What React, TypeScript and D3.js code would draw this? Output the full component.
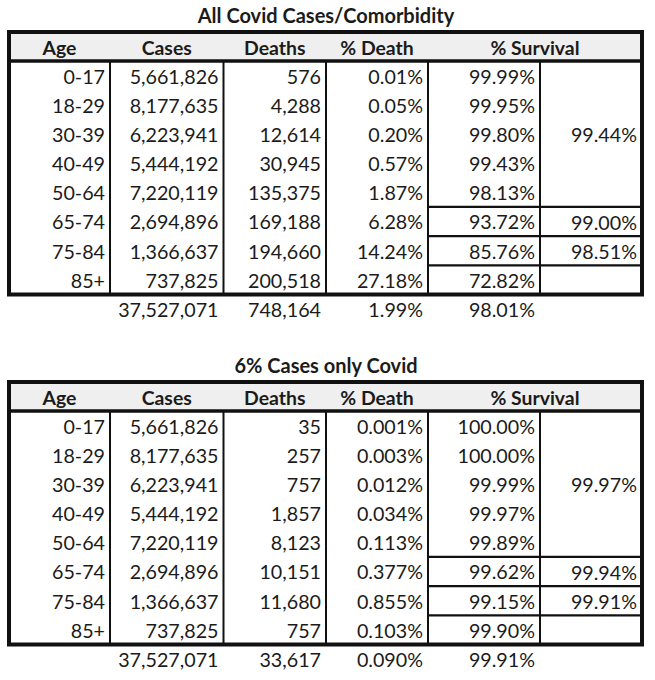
import * as d3 from "d3";

// age groups shared by both tables
const ages = ["0-17", "18-29", "30-39", "40-49", "50-64", "65-74", "75-84", "85+"];
const cases = [5661826, 8177635, 6223941, 5444192, 7220119, 2694896, 1366637, 737825];
const headers = ["Age", "Cases", "Deaths", "% Death", "% Survival"];

// table 1: all covid cases / comorbidity
const deathsAll = [576, 4288, 12614, 30945, 135375, 169188, 194660, 200518];
const pctDeathAll = ["0.01%", "0.05%", "0.20%", "0.57%", "1.87%", "6.28%", "14.24%", "27.18%"];
const survivalAll = ["99.99%", "99.95%", "99.80%", "99.43%", "98.13%", "93.72%", "85.76%", "72.82%"];
const groupSurvivalAll = ["99.44%", "99.00%", "98.51%", ""];
const totalsAll = ["37,527,071", "748,164", "1.99%", "98.01%"];

// table 2: 6% cases only covid
const deathsOnly = [35, 257, 757, 1857, 8123, 10151, 11680, 757];
const pctDeathOnly = ["0.001%", "0.003%", "0.012%", "0.034%", "0.113%", "0.377%", "0.855%", "0.103%"];
const survivalOnly = ["100.00%", "100.00%", "99.99%", "99.97%", "99.89%", "99.62%", "99.15%", "99.90%"];
const groupSurvivalOnly = ["99.97%", "99.94%", "99.91%", ""];
const totalsOnly = ["37,527,071", "33,617", "0.090%", "99.91%"];

// row spans of the grouped survival column: [firstRow, lastRow]
const groupSpans: [number, number][] = [[0, 4], [5, 5], [6, 6], [7, 7]];

const fmt = d3.format(",");
const FONT = "Lato, 'Open Sans', sans-serif";
const INK = "#1b1b1b";
const BODY_SIZE = 19.7;

const colEdges = [9, 110, 223.5, 326, 428, 540, 642];

function Table({ title, top, deaths, pctDeath, survival, groupSurvival, totals }: any) {
  const headerTop = top;
  const headerBottom = top + 29;
  const bottom = headerBottom + 233.5;
  const y = d3.scaleBand<string>().domain(ages).range([headerBottom, bottom]);
  const rowH = y.bandwidth();
  const pad = 5;

  const columns = [ages, cases.map(fmt), deaths.map(fmt), pctDeath, survival];

  const headerCenters = [
    (colEdges[0] + colEdges[1]) / 2,
    (colEdges[1] + colEdges[2]) / 2,
    (colEdges[2] + colEdges[3]) / 2,
    (colEdges[3] + colEdges[4]) / 2,
    (colEdges[4] + colEdges[6]) / 2,
  ];

  return (
    <g>
      <text x={326} y={top - 9} textAnchor="middle" fontFamily={FONT} fontWeight={700} fontSize={20} fill={INK}>
        {title}
      </text>
      <rect x={colEdges[0]} y={headerTop} width={colEdges[6] - colEdges[0]} height={headerBottom - headerTop} fill="#efefef" />
      {headers.map((h, i) => (
        <text key={h} x={headerCenters[i]} y={headerTop + 23} textAnchor="middle" fontFamily={FONT} fontWeight={700} fontSize={19.4} fill={INK}>
          {h}
        </text>
      ))}
      {columns.map((col, ci) =>
        col.map((v: string, ri: number) => (
          <text key={ci + "-" + ri} x={colEdges[ci + 1] - pad} y={(y(ages[ri]) as number) + 22.5} textAnchor="end" fontFamily={FONT} fontSize={BODY_SIZE} fill={INK}>
            {v}
          </text>
        ))
      )}
      {groupSpans.map(([a, b], gi) => {
        const y0 = y(ages[a]) as number;
        const y1 = (y(ages[b]) as number) + rowH;
        return (
          <g key={"g" + gi}>
            <text x={colEdges[6] - pad} y={(y0 + y1) / 2 + 8} textAnchor="end" fontFamily={FONT} fontSize={BODY_SIZE} fill={INK}>
              {groupSurvival[gi]}
            </text>
            {gi > 0 && <line x1={colEdges[4]} x2={colEdges[6]} y1={y0} y2={y0} stroke="#111" strokeWidth={2.2} />}
          </g>
        );
      })}
      {colEdges.slice(1, 6).map((x, i) => (
        <line key={"v" + i} x1={x} x2={x} y1={headerBottom} y2={bottom} stroke="#111" strokeWidth={2} />
      ))}
      <line x1={colEdges[0]} x2={colEdges[6]} y1={headerBottom} y2={headerBottom} stroke="#111" strokeWidth={3.5} />
      <rect x={colEdges[0]} y={headerTop} width={colEdges[6] - colEdges[0]} height={bottom - headerTop} fill="none" stroke="#111" strokeWidth={4} />
      {totals.map((t: string, i: number) => (
        <text key={"t" + i} x={colEdges[i + 2] - pad} y={bottom + 22.5} textAnchor="end" fontFamily={FONT} fontSize={BODY_SIZE} fill={INK}>
          {t}
        </text>
      ))}
    </g>
  );
}

export default function App() {
  return (
    <svg width={655} height={680} style={{ position: "absolute", left: 0, top: 0, background: "#fff" }}>
      <rect width={655} height={680} fill="#fff" />
      <Table
        title="All Covid Cases/Comorbidity"
        top={32}
        deaths={deathsAll}
        pctDeath={pctDeathAll}
        survival={survivalAll}
        groupSurvival={groupSurvivalAll}
        totals={totalsAll}
      />
      <Table
        title="6% Cases only Covid"
        top={382}
        deaths={deathsOnly}
        pctDeath={pctDeathOnly}
        survival={survivalOnly}
        groupSurvival={groupSurvivalOnly}
        totals={totalsOnly}
      />
    </svg>
  );
}
